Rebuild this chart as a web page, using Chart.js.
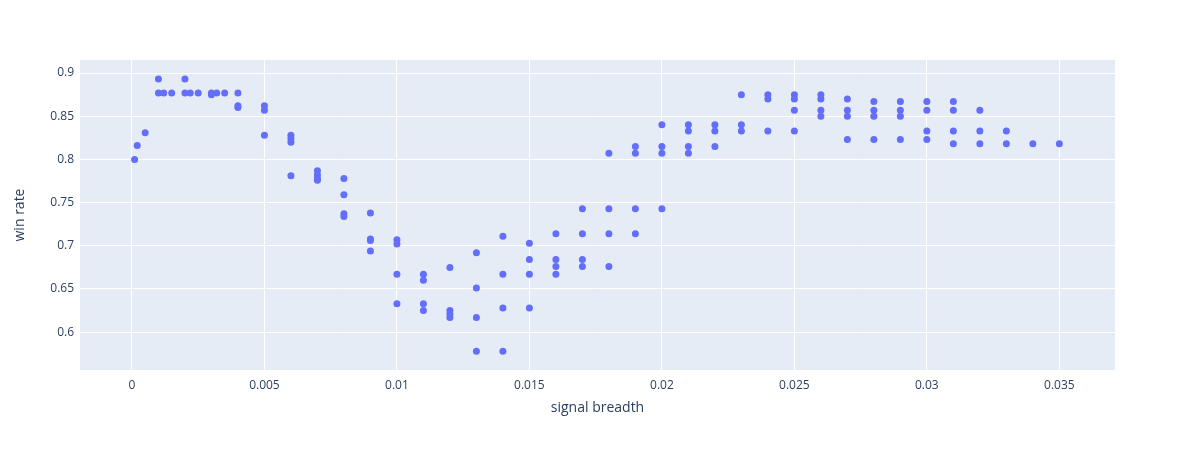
<!DOCTYPE html>
<html>
<head>
<meta charset="utf-8">
<script src="https://cdn.jsdelivr.net/npm/chart.js@4"></script>
<style>
  html, body { margin: 0; padding: 0; background: #fff; }
  #wrap { width: 1195px; height: 450px; }
</style>
</head>
<body>
<div id="wrap"><canvas id="scatter"></canvas></div>
<script>
// signal breadth values, one per group of points
const breadth = [0.0001, 0.0002, 0.0005, 0.001, 0.001, 0.0012, 0.0015, 0.002, 0.002, 0.0022,
  0.0025, 0.003, 0.003, 0.0032, 0.0035, 0.004, 0.004, 0.004,
  0.005, 0.005, 0.005, 0.006, 0.006, 0.006, 0.006, 0.007, 0.007, 0.007, 0.007,
  0.008, 0.008, 0.008, 0.008, 0.009, 0.009, 0.009, 0.009, 0.01, 0.01, 0.01, 0.01,
  0.011, 0.011, 0.011, 0.011, 0.012, 0.012, 0.012, 0.012, 0.013, 0.013, 0.013, 0.013,
  0.014, 0.014, 0.014, 0.014, 0.015, 0.015, 0.015, 0.015, 0.016, 0.016, 0.016, 0.016,
  0.017, 0.017, 0.017, 0.017, 0.018, 0.018, 0.018, 0.018, 0.019, 0.019, 0.019, 0.019,
  0.02, 0.02, 0.02, 0.02, 0.021, 0.021, 0.021, 0.021, 0.022, 0.022, 0.022,
  0.023, 0.023, 0.023, 0.024, 0.024, 0.024, 0.025, 0.025, 0.025, 0.025,
  0.026, 0.026, 0.026, 0.026, 0.027, 0.027, 0.027, 0.027, 0.028, 0.028, 0.028, 0.028,
  0.029, 0.029, 0.029, 0.029, 0.03, 0.03, 0.03, 0.03, 0.031, 0.031, 0.031, 0.031,
  0.032, 0.032, 0.032, 0.033, 0.033, 0.034, 0.035];
const winRate = [0.8, 0.816, 0.831, 0.893, 0.877, 0.877, 0.877, 0.893, 0.877, 0.877,
  0.877, 0.875, 0.877, 0.877, 0.877, 0.877, 0.862, 0.86,
  0.862, 0.857, 0.828, 0.828, 0.824, 0.82, 0.781, 0.787, 0.782, 0.778, 0.776,
  0.778, 0.759, 0.737, 0.734, 0.738, 0.708, 0.706, 0.694, 0.707, 0.702, 0.667, 0.633,
  0.667, 0.66, 0.633, 0.625, 0.675, 0.625, 0.621, 0.617, 0.692, 0.651, 0.617, 0.578,
  0.711, 0.667, 0.628, 0.578, 0.703, 0.684, 0.667, 0.628, 0.714, 0.684, 0.676, 0.667,
  0.743, 0.714, 0.684, 0.676, 0.807, 0.743, 0.714, 0.676, 0.815, 0.807, 0.743, 0.714,
  0.84, 0.815, 0.807, 0.743, 0.84, 0.833, 0.815, 0.807, 0.84, 0.833, 0.815,
  0.875, 0.84, 0.833, 0.875, 0.87, 0.833, 0.875, 0.87, 0.857, 0.833,
  0.875, 0.87, 0.857, 0.85, 0.87, 0.857, 0.85, 0.823, 0.867, 0.857, 0.85, 0.823,
  0.867, 0.857, 0.85, 0.823, 0.867, 0.857, 0.833, 0.823, 0.867, 0.857, 0.833, 0.818,
  0.857, 0.833, 0.818, 0.833, 0.818, 0.818, 0.818];
const xTicks = [0, 0.005, 0.01, 0.015, 0.02, 0.025, 0.03, 0.035];
const yTicks = [0.6, 0.65, 0.7, 0.75, 0.8, 0.85, 0.9];

const points = breadth.map((b, i) => ({ x: b, y: winRate[i] }));

const plotBg = {
  id: "plotBg",
  beforeDraw(chart) {
    const a = chart.chartArea;
    const ctx = chart.ctx;
    ctx.save();
    ctx.fillStyle = "#e5ecf6";
    ctx.fillRect(a.left, a.top, a.right - a.left, a.bottom - a.top);
    ctx.restore();
  }
};

const fmt = v => (v === 0 ? "0" : String(+v.toFixed(3)));

new Chart(document.getElementById("scatter"), {
  type: "scatter",
  data: {
    datasets: [{
      data: points,
      backgroundColor: "#636efa",
      borderWidth: 0,
      pointRadius: 3.5,
      pointHoverRadius: 3.5
    }]
  },
  options: {
    responsive: true,
    maintainAspectRatio: false,
    animation: false,
    layout: { padding: { top: 60, right: 80, left: 0, bottom: 0 } },
    plugins: { legend: { display: false }, tooltip: { enabled: false } },
    scales: {
      x: {
        min: -0.00196, max: 0.0371,
        afterFit: s => { s.height = 80; },
        afterBuildTicks: s => { s.ticks = xTicks.map(v => ({ value: v })); },
        grid: { color: "#ffffff", lineWidth: 1, drawTicks: false },
        border: { display: false },
        ticks: { color: "#2a3f5f", font: { family: "Open Sans", size: 12 }, padding: 8, callback: fmt, maxRotation: 0 },
        title: { display: true, text: "signal breadth", color: "#2a3f5f", font: { family: "Open Sans", size: 14 }, padding: { top: 0, bottom: 34 } }
      },
      y: {
        min: 0.5562, max: 0.9151,
        afterFit: s => { s.width = 80; },
        afterBuildTicks: s => { s.ticks = yTicks.map(v => ({ value: v })); },
        grid: { color: "#ffffff", lineWidth: 1, drawTicks: false },
        border: { display: false },
        ticks: { color: "#2a3f5f", font: { family: "Open Sans", size: 12 }, padding: 6, callback: fmt },
        title: { display: true, text: "win rate", color: "#2a3f5f", font: { family: "Open Sans", size: 14 }, padding: { top: 12, bottom: 0 } }
      }
    }
  },
  plugins: [plotBg]
});
</script>
</body>
</html>
